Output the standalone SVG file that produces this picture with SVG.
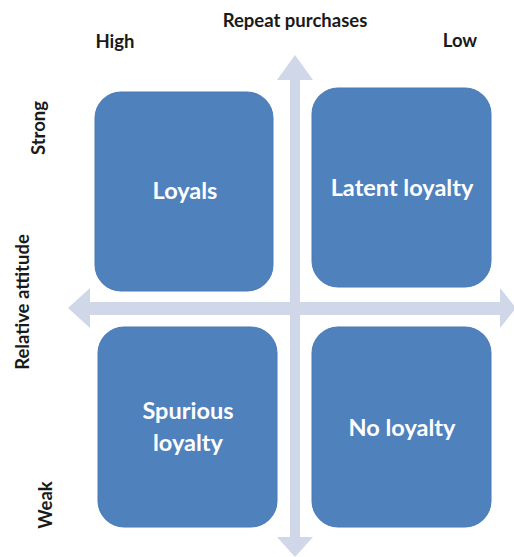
<svg xmlns="http://www.w3.org/2000/svg" width="514" height="557" viewBox="0 0 514 557">
<style>
.box{fill:#4f81bd;stroke:#4a7ab5;stroke-width:1}
.arrow{fill:#cfd7e8}
.lbl{font-family:Lato,"Open Sans","Liberation Sans",sans-serif;font-weight:bold;fill:#ffffff;font-size:23.5px;text-anchor:middle}
.axis{font-family:Lato,"Open Sans","Liberation Sans",sans-serif;font-weight:bold;fill:#1a1a1a;font-size:18.5px;text-anchor:middle}
</style>
<rect width="514" height="557" fill="#ffffff"/>
<g id="connectors">
<path class="arrow" d="M290,80 L277,80 L295,55 L313,80 L300,80 L300,537 L313,537 L295,557 L277,537 L290,537 Z"/>
<path class="arrow" d="M90,302 L90,288 L68,308 L90,328 L90,315 L500,315 L500,328 L516,308 L500,288 L500,302 Z"/>
</g>
<g id="loyals">
<rect class="box" x="95" y="92" width="178" height="199" rx="26"/>
<text class="lbl" x="185" y="199">Loyals</text>
</g>
<g id="latent">
<rect class="box" x="312" y="88" width="179" height="199" rx="26"/>
<text class="lbl" x="402" y="196">Latent loyalty</text>
</g>
<g id="spurious">
<rect class="box" x="98" y="327" width="179" height="200" rx="26"/>
<text class="lbl" x="188" y="419">Spurious</text>
<text class="lbl" x="188" y="451">loyalty</text>
</g>
<g id="noloyalty">
<rect class="box" x="312" y="327" width="179" height="200" rx="26"/>
<text class="lbl" x="402" y="436">No loyalty</text>
</g>
<g id="axis-labels">
<text class="axis" x="295" y="27">Repeat purchases</text>
<text class="axis" x="115" y="48">High</text>
<text class="axis" x="460" y="47">Low</text>
<text class="axis" transform="translate(45,128) rotate(-90)">Strong</text>
<text class="axis" transform="translate(29,302) rotate(-90)">Relative attitude</text>
<text class="axis" transform="translate(52,505) rotate(-90)">Weak</text>
</g>
</svg>
